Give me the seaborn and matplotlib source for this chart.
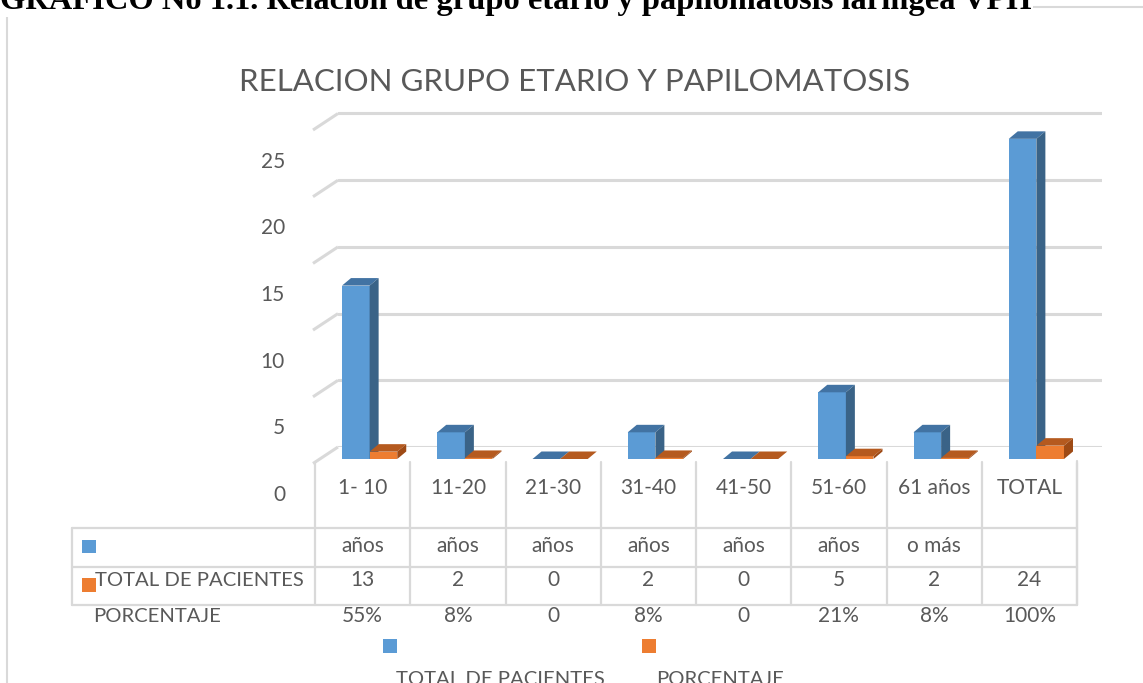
import matplotlib
matplotlib.use("Agg")
import matplotlib.pyplot as plt
from matplotlib.patches import Polygon, Rectangle
import numpy as np
import pandas as pd
import seaborn as sns

# datos
grupos = ['1- 10', '11-20', '21-30', '31-40', '41-50', '51-60', '61 años', 'TOTAL']
grupos_l2 = ['años', 'años', 'años', 'años', 'años', 'años', 'o más', '']
total_pacientes = [13, 2, 0, 2, 0, 5, 2, 24]
porcentaje = [0.55, 0.08, 0, 0.08, 0, 0.21, 0.08, 1.0]
series = ['TOTAL DE PACIENTES', 'PORCENTAJE']
y_ticks = [0, 5, 10, 15, 20, 25]

azul, naranja = '#5B9BD5', '#ED7D31'
azul_top, azul_side = '#4273A3', '#3A6387'
nar_top, nar_side = '#B55A1F', '#9E4A15'
gris = '#D9D9D9'
txt = '#595959'

W, H = 1143, 683
sns.set_style('white')
plt.rcParams['font.family'] = ['Lato', 'DejaVu Sans']

df = pd.DataFrame({
    'grupo': grupos * 2,
    'valor': total_pacientes + porcentaje,
    'serie': [series[0]] * len(grupos) + [series[1]] * len(grupos),
})

fig = plt.figure(figsize=(W / 100, H / 100), dpi=100)

def box(x0, y0, x1, y1):
    # caja en pixeles (origen arriba-izquierda) -> fraccion de figura
    return [x0 / W, 1 - y1 / H, (x1 - x0) / W, (y1 - y0) / H]

# capa de fondo en pixeles para tabla, titulos, marco
bg = fig.add_axes([0, 0, 1, 1], zorder=0)
bg.set_xlim(0, W)
bg.set_ylim(H, 0)
bg.axis('off')

px_unit = 66.7 / 5
ymax = 26

# pared del fondo con las lineas de cuadricula
back = fig.add_axes(box(338, 447 - ymax * px_unit, 1102, 447), zorder=1)
back.set_ylim(0, ymax)
back.set_xlim(0, 1)
back.set_yticks(y_ticks)
back.set_xticks([])
back.tick_params(left=False, labelleft=False)
back.grid(axis='y', color=gris, lw=2.2)
sns.despine(ax=back, left=True, bottom=True)
back.patch.set_alpha(0)
for v in y_ticks:
    yb = 447 - v * px_unit
    bg.plot([338, 313], [yb, yb + 16.5], color=gris, lw=2.2, solid_capstyle='butt')

# barras
ax = fig.add_axes(box(322, 459 - ymax * px_unit, 1084, 459), zorder=2)
sns.barplot(data=df, x='grupo', y='valor', hue='serie', palette=[azul, naranja],
            width=0.58, ax=ax, legend=False, saturation=1, edgecolor='none')
ax.set_xlim(-0.5, len(grupos) - 0.5)
ax.set_ylim(0, ymax)
ax.axis('off')
ax.patch.set_alpha(0)

# caras superior y lateral (efecto 3D)
ddx = 9 / 95.25
ddy = 7.5 / px_unit
n = len(grupos)
for i, p in enumerate(ax.patches[:2 * n]):
    x0, w, h = p.get_x(), p.get_width(), p.get_height()
    top_c, side_c = (azul_top, azul_side) if i < n else (nar_top, nar_side)
    z = 3 + i // n
    p.set_zorder(z)
    ax.add_patch(Polygon([(x0, h), (x0 + w, h), (x0 + w + ddx, h + ddy), (x0 + ddx, h + ddy)],
                         facecolor=top_c, edgecolor='none', zorder=z, clip_on=False))
    if h > 0:
        ax.add_patch(Polygon([(x0 + w, 0), (x0 + w + ddx, ddy), (x0 + w + ddx, h + ddy), (x0 + w, h)],
                             facecolor=side_c, edgecolor='none', zorder=z, clip_on=False))

# etiquetas del eje y (desplazadas como en el original)
for v in y_ticks:
    bg.text(285, 459 - v * px_unit + 36, str(v), ha='right', va='center', fontsize=15, color=txt)

# tabla de datos
x_left, x_right = 315, 1077
colw = (x_right - x_left) / n
for k in range(n + 1):
    xc = x_left + k * colw
    bg.plot([xc, xc], [462 if 0 < k < n else 463, 605], color=gris, lw=1.6)
bg.plot([x_right, x_right], [461, 605], color=gris, lw=1.6)
for yr in [528, 567, 605]:
    bg.plot([72, x_right], [yr, yr], color=gris, lw=1.6)
bg.plot([72, 72], [528, 605], color=gris, lw=1.6)

for k in range(n):
    xc = x_left + (k + 0.5) * colw
    bg.text(xc, 488, grupos[k], ha='center', va='center', fontsize=15, color=txt)
    bg.text(xc, 546, grupos_l2[k], ha='center', va='center', fontsize=15, color=txt)
    bg.text(xc, 580, str(total_pacientes[k]), ha='center', va='center', fontsize=15, color=txt)
    pl = f'{porcentaje[k]:.0%}' if porcentaje[k] else '0'
    bg.text(xc, 616, pl, ha='center', va='center', fontsize=15, color=txt)

bg.add_patch(Rectangle((82, 540), 14, 13, facecolor=azul, edgecolor='none'))
bg.add_patch(Rectangle((82, 578), 14, 14, facecolor=naranja, edgecolor='none', zorder=3))
bg.text(95, 580, series[0], ha='left', va='center', fontsize=14.6, color=txt)
bg.text(93, 616, series[1], ha='left', va='center', fontsize=14.6, color=txt)

# leyenda inferior
bg.add_patch(Rectangle((383, 639), 14, 14, facecolor=azul, edgecolor='none'))
bg.add_patch(Rectangle((642, 639), 14, 14, facecolor=naranja, edgecolor='none'))
bg.text(396, 685, series[0], ha='left', va='baseline', fontsize=14.6, color=txt)
bg.text(656, 685, series[1], ha='left', va='baseline', fontsize=14.6, color=txt)

# titulo del grafico
bg.text(575, 82, 'RELACION GRUPO ETARIO Y PAPILOMATOSIS', ha='center', va='center',
        fontsize=22.5, color=txt)

# marco y titulo del documento
bg.plot([7, 7], [8, H], color=gris, lw=1.5)
bg.plot([7, W], [7, 7], color=gris, lw=1.5)
bg.text(0, 9, 'GRAFICO No 1.1. Relación de grupo etario y papilomatosis laríngea VPH',
        ha='left', va='baseline', fontsize=23.4, fontweight='bold', color='black',
        family=['Liberation Serif', 'DejaVu Serif'],
        bbox=dict(facecolor='white', edgecolor='none', pad=1))

fig.savefig('out.png', dpi=100)
